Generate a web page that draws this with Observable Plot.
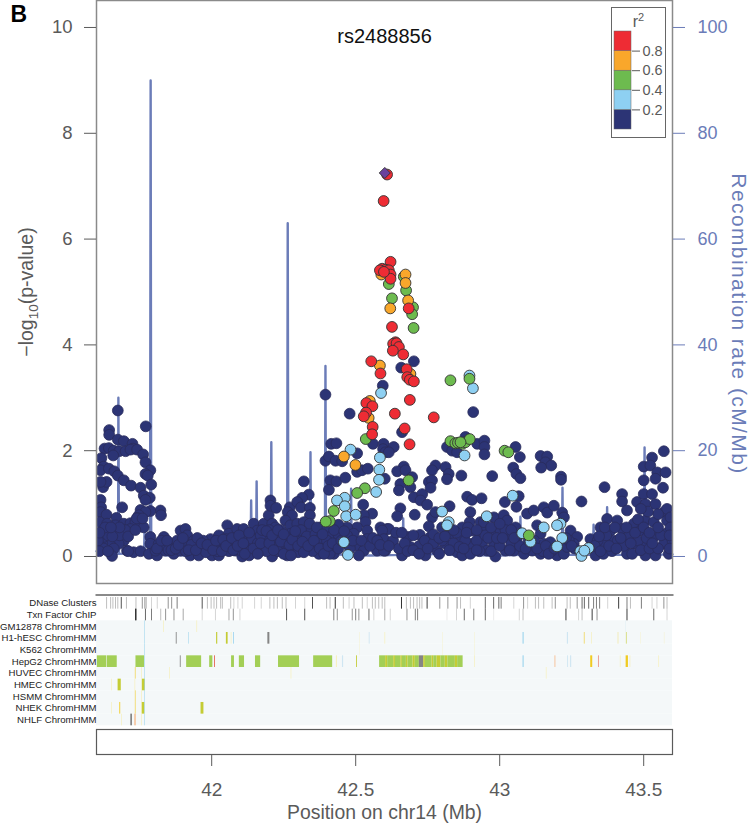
<!DOCTYPE html>
<html><head><meta charset="utf-8">
<style>html,body{margin:0;padding:0;background:#fff}#w{position:relative;width:750px;height:823px;overflow:hidden}svg{display:block}</style>
<script src="https://cdn.jsdelivr.net/npm/d3@7"></script>
<script src="https://cdn.jsdelivr.net/npm/@observablehq/plot@0.6"></script>
</head><body><div id="w"></div>
<script>
const FONT = '"Liberation Sans", Arial, sans-serif';
const NAVY="#2c3475", LBLUE="#8ed0f2", GREEN="#6dbb4f", ORANGE="#f9a72b", RED="#ee2c34", PURPLE="#6a429e";
const AXIS="#5a5a5a", RATE="#6b7cb8";
const rsid="rs2488856";
const yTicks=[0,2,4,6,8,10];
const xTicks=[42,42.5,43,43.5];
const legendBins=[[0,.2,NAVY],[.2,.4,LBLUE],[.4,.6,GREEN],[.6,.8,ORANGE],[.8,1,RED]];
const tracks=["DNase Clusters","Txn Factor ChIP","GM12878 ChromHMM","H1-hESC ChromHMM","K562 ChromHMM","HepG2 ChromHMM","HUVEC ChromHMM","HMEC ChromHMM","HSMM ChromHMM","NHEK ChromHMM","NHLF ChromHMM"];
const recRate=[[41.6,1],[41.62,.5],[41.64,1.5],[41.65,.6],[41.675,.5],[41.676,30],[41.678,.5],[41.72,.6],[41.765,.5],[41.767,5],[41.769,.5],[41.786,.5],[41.788,90],[41.79,.5],[41.85,.2],[42,.3],[42.135,.4],[42.137,10.6],[42.139,.4],[42.154,.4],[42.156,14.2],[42.158,.4],[42.205,.4],[42.207,21.6],[42.209,.4],[42.262,.4],[42.264,63],[42.266,.4],[42.341,.4],[42.343,19.7],[42.345,.4],[42.393,.4],[42.395,36],[42.397,.4],[42.482,.3],[42.484,12.8],[42.486,.3],[42.55,.2],[42.663,.3],[42.665,7.2],[42.667,.3],[42.8,.5],[42.81,1],[42.82,.3],[43,.2],[43.07,.3],[43.072,7.5],[43.074,.3],[43.216,.3],[43.218,13],[43.22,.3],[43.324,.3],[43.326,6],[43.328,.3],[43.371,.3],[43.373,9.3],[43.375,.3],[43.501,.3],[43.503,20.6],[43.505,.3],[43.6,.4]];
const r2Navy=[[41.674,2.76],[41.771,2.46],[41.644,2.39],[41.644,2.3],[41.674,2.21],[41.695,2.18],[41.725,2.13],[41.727,2.04],[41.628,2.04],[41.643,2.05],[41.66,2],[41.679,1.99],[41.701,1.99],[41.718,2.02],[41.741,2.02],[41.762,1.93],[41.658,1.91],[41.617,1.86],[41.77,1.78],[41.625,1.7],[41.614,1.63],[41.643,1.66],[41.662,1.61],[41.674,1.53],[41.695,1.44],[41.787,1.63],[41.77,1.56],[41.778,1.53],[41.79,1.36],[41.72,1.34],[41.753,1.3],[41.623,1.31],[41.635,1.41],[41.614,1.41],[41.764,1.15],[41.785,1.11],[41.77,1.07],[41.614,1.07],[41.689,.93],[41.616,.93],[41.822,.87],[41.824,.78],[41.787,.86],[41.753,.88],[41.77,.84],[41.747,.78],[41.741,.73],[41.614,.84],[41.635,.79],[41.669,.73],[41.611,.65],[41.637,.62],[41.666,.59],[41.695,.62],[41.718,.63],[41.735,.65],[41.764,.55],[41.718,.52],[41.672,.49],[41.625,.46],[41.695,.3],[41.677,.24],[41.648,.21],[41.62,.24],[41.625,.37],[41.625,.15],[41.66,.15],[41.706,.11],[41.729,.08],[41.753,.1],[41.654,.01],[41.787,.37],[41.787,.24],[41.782,.05],[41.81,.02],[41.834,.37],[41.816,.24],[41.805,.11],[41.839,.11],[41.863,.24],[41.868,.05],[41.892,.49],[41.909,.52],[41.915,.4],[41.903,.24],[41.892,.11],[41.926,.02],[41.938,.3],[41.955,.18],[41.955,.02],[41.978,.15],[41.996,.33],[41.996,.21],[42.001,.02],[42.025,.4],[42.03,.24],[42.025,.02],[42.054,.59],[42.059,.43],[42.042,.15],[42.065,.24],[42.088,.52],[42.1,.37],[42.082,.11],[42.106,0],[42.111,.52],[42.123,.24],[42.135,.11],[42.146,.62],[42.158,.49],[42.152,.33],[42.169,.11],[42.181,.62],[42.198,.78],[42.204,1.06],[42.204,.96],[42.224,.92],[42.21,.62],[42.192,.37],[42.21,0],[42.221,.55],[42.233,.37],[42.245,.18],[42.262,.02],[42.271,.93],[42.264,.84],[42.279,.78],[42.256,.68],[42.273,.59],[42.273,.43],[42.262,.24],[42.297,.62],[42.32,1.42],[42.337,1.17],[42.314,1.11],[42.297,1.03],[42.31,.93],[42.341,.92],[42.341,.78],[42.32,.65],[42.343,.49],[42.302,.33],[42.285,.18],[42.326,.18],[42.349,.3],[42.372,.05],[42.389,.18],[42.378,.55],[42.395,.49],[42.412,.37],[42.424,.05],[42.395,3.06],[42.395,1.81],[42.407,1.89],[42.415,2.13],[42.433,2.14],[42.43,1.81],[42.453,1.8],[42.412,1.44],[42.433,1.42],[42.464,1.49],[42.407,1.26],[42.505,1.6],[42.522,1.63],[42.542,1.66],[42.479,2.7],[42.56,2.13],[42.597,2.13],[42.595,2.03],[42.603,1.97],[42.505,1.95],[42.601,1.47],[42.526,.98],[42.557,.81],[42.528,.78],[42.534,.65],[42.505,.55],[42.47,.55],[42.493,.43],[42.54,.49],[42.586,.55],[42.609,.52],[42.592,.37],[42.54,.33],[42.505,.21],[42.528,.11],[42.574,.11],[42.603,.11],[42.511,.02],[42.47,.24],[42.441,.4],[42.594,3.23],[42.702,3.69],[42.658,3.57],
[42.908,2.73],[42.661,2.35],[42.632,2.07],[42.615,1.97],[42.817,2.07],[42.835,2],[42.852,1.97],[42.881,2.26],[42.922,2.13],[42.947,2.19],[42.947,2.07],[42.947,1.93],[43.055,2.07],[43.07,1.88],[43.142,1.9],[43.165,1.89],[43.159,1.78],[43.179,1.72],[43.144,1.68],[43.047,1.68],[43.058,1.56],[43.072,1.48],[43.213,1.51],[43.213,1.45],[43.57,1.99],[43.529,1.87],[43.5,1.7],[43.523,1.72],[43.547,1.59],[43.576,1.59],[43.5,1.44],[43.541,1.47],[43.567,1.3],[43.364,1.31],[42.667,1.7],[42.644,1.61],[42.673,1.63],[42.696,1.5],[42.655,1.37],[42.69,1.31],[42.65,1.25],[42.702,1.12],[42.731,1.18],[42.725,1.06],[42.748,.98],[42.777,1.72],[42.765,1.63],[42.812,1.69],[42.823,1.56],[42.817,1.46],[42.754,1.41],[42.765,1.44],[42.76,1.3],[42.867,1.53],[42.974,1.52],[42.887,1.13],[42.904,1.07],[42.937,1.1],[43.018,1.03],[43.066,1.14],[43.058,.94],[42.655,.91],[42.644,.76],[42.705,.79],[42.615,.52],[42.592,.49],[42.598,.33],[42.598,.11],[42.661,.02],[42.681,.37],[42.69,.18],[42.723,.41],[42.736,.27],[42.711,.11],[42.742,.02],[42.783,.11],[42.76,.37],[42.765,.74],[42.754,.57],[42.777,.84],[42.826,.95],[42.8,.55],[42.829,.43],[42.812,.24],[42.852,.08],[42.87,.02],[42.864,.37],[42.898,.84],[42.896,.65],[42.87,.55],[42.904,.49],[42.904,.24],[42.898,.05],[42.933,.65],[42.951,.55],[42.933,.4],[42.939,.24],[42.956,.11],[42.985,0],[42.98,.74],[42.985,.49],[42.98,.24],[43.014,.78],[43.026,.68],[43.003,.49],[43.026,.37],[43.02,.11],[43.049,.11],[43.061,.37],[43.055,.55],[43.095,.81],[43.118,.87],[43.153,.93],[43.165,.83],[43.188,.96],[43.13,.59],[43.142,.43],[43.153,.24],[43.084,.05],[43.113,.11],[43.176,.27],[43.142,.05],[43.217,.83],[43.223,.74],[43.199,.02],[43.246,.49],[43.269,.37],[43.257,.24],[43.223,.05],[43.284,1.04],[43.234,.18],[43.333,.02],[43.315,.33],[43.35,.55],[43.373,.71],[43.385,.49],[43.361,.24],[43.408,.68],[43.425,1.18],[43.425,1.04],[43.442,.87],[43.425,.52],[43.396,.3],[43.442,.24],[43.442,.05],[43.477,1.03],[43.5,1.18],[43.529,1.18],[43.506,.99],[43.541,.99],[43.466,.62],[43.506,.68],[43.535,.65],[43.489,.49],[43.466,.24],[43.5,.24],[43.535,.37],[43.506,.02],[43.541,.02],[43.57,.84],[43.581,.9],[43.581,.68],[43.576,.43],[43.593,.74],[43.593,.55],[43.587,.24],[43.587,.05],[43.57,.24],
[41.83,.22],[41.85,.12],[41.88,.3],[41.91,.1],[41.93,.22],[41.97,.3],[41.98,.08],[42.01,.2],[42.02,.1],[42.05,.33],[42.06,.1],[42.08,.27],[42.1,.12],[42.12,.36],[42.13,.02],[42.14,.33],[42.16,.25],[42.17,.4],[42.18,.2],[42.19,.1],[42.2,.5],[42.22,.22],[42.23,.1],[42.24,.5],[42.25,.05],[42.26,.36],[42.28,.1],[42.29,.3],[42.3,.08],[42.31,.5],[42.33,.38],[42.35,.1],[42.36,.42],[42.37,.25],[42.38,.35],[42.4,.3],[42.41,.05],[42.43,.2],[42.44,.6],[42.47,.4],[42.63,.3],[42.65,.15],[42.67,.25],[42.7,.4],[42.72,.2],[42.74,.3],[42.77,.25],[42.79,.05],[42.8,.3],[42.84,.25],[42.85,.45],[42.88,.3],[42.89,.55],[42.92,.3],[42.93,.1],[42.95,.4],[42.97,.1],[43,.2],[43.02,.5],[43.04,.25],[43.07,.2],[43.09,.15],[43.12,.3],[43.15,.1],[43.18,.1],[43.24,.3],[43.26,.15],[43.34,.3],[43.36,.05],[43.37,.4],[43.39,.1],[43.41,.3],[43.43,.2],[43.45,.4],[43.46,.05],[43.48,.3],[43.49,.12],[43.51,.35],[43.52,.15],[43.55,.15],[43.56,.4],[43.6,.3],[41.605,.3],[41.61,.1],[41.64,.4],[41.7,.5],[41.68,.4],
[41.81,.15],[41.825,.3],[41.845,.3],[41.86,.12],[41.875,.15],[41.885,.22],[41.9,.35],[41.92,.12],[41.945,.12],[41.95,.35],[41.965,.25],[41.985,.22],[42.005,.12],[42.015,.3],[42.035,.1],[42.04,.32],[42.05,.2],[42.07,.35],[42.075,.12],[42.09,.2],[42.095,.4],[42.11,.25],[42.115,.05],[42.13,.45],[42.145,.15],[42.16,.05],[42.17,.25],[42.175,.5],[42.19,.48],[42.2,.25],[42.21,.4],[42.215,.12],[42.23,.5],[42.24,.28],[42.25,.42],[42.27,.22],[42.275,.02],[42.28,.32],[42.29,.48],[42.3,.2],[42.315,.28],[42.32,.08],[42.335,.2],[42.34,.62],[42.355,.3],[42.365,.55],[42.375,.15],[42.385,.42],[42.39,.05],[42.405,.2],[42.42,.25],[42.425,.5],[42.44,.15],[42.45,.3],[42.46,.48],[42.48,.15],[42.49,.3],[42.52,.3],[42.55,.2],[42.56,.35],[42.575,.3],[42.585,.22],[42.615,.2],[41.63,.55],[41.655,.38],[41.68,.55],[41.71,.38],[41.735,.5],[41.65,.55],[41.61,.45],[41.74,.72],[41.76,.72],[41.71,.1],[41.64,.1],
[42.64,.45],[42.66,.45],[42.68,.1],[42.7,.12],[42.72,.05],[42.75,.15],[42.77,.42],[42.79,.35],[42.81,.38],[42.825,.12],[42.84,.5],[42.86,.18],[42.875,.15],[42.885,.45],[42.92,.5],[42.92,.12],[42.945,.65],[42.96,.35],[42.97,.55],[42.99,.35],[43,.62],[43.01,.35],[43.035,.12],[43.04,.5],[43.05,.35],[43.1,.3],[43.13,.15],[43.16,.2],[43.17,.05],[43.19,.15],[43.23,.35],[43.25,.2],[43.33,.2],[43.345,.38],[43.35,.1],[43.365,.55],[43.38,.2],[43.4,.55],[43.405,.15],[43.42,.35],[43.44,.55],[43.455,.25],[43.47,.45],[43.48,.7],[43.5,.55],[43.52,.45],[43.53,.25],[43.55,.55],[43.55,.8],[43.515,.85],[43.49,.9],[43.59,.4],[43.59,.15]];
const r2LightBlue=[[42.588,3.09],[42.482,2.02],[42.584,1.87],[42.582,1.64],[42.581,1.45],[42.571,1.22],[42.462,1.11],[42.435,1.06],[42.462,.95],[42.467,.76],[42.5,.79],[42.459,.27],[42.473,.03],[42.895,3.42],[42.907,3.18],[42.878,1.91],[42.8,.85],[42.823,.65],[42.817,.59],[42.955,.76],[43.045,1.15],[43.078,.44],[43.107,.28],[43.153,.55],[43.211,.62],[43.199,.59],[43.217,.35],[43.199,.19],[43.28,.1],[43.309,.16],[43.284,.01],[43.294,.11]];
const r2Green=[[42.535,2.22],[42.532,1.29],[42.505,1.2],[42.424,.86],[42.41,.67],[42.396,.66],[42.615,5.15],[42.667,5.29],[42.675,5.03],[42.626,4.88],[42.699,4.71],[42.696,4.58],[42.701,4.32],[42.829,3.33],[42.895,3.36],[42.829,2.18],[42.846,2.14],[42.855,2.15],[42.87,2.13],[42.881,2.16],[42.896,2.22],[42.864,2.16],[43.017,2],[43.03,1.97],[42.684,1.44],[43.101,.4]];
const r2Orange=[[42.459,1.89],[42.499,1.73],[42.549,2.94],[42.545,2.62],[42.589,5.33],[42.673,5.33],[42.673,5.17],[42.62,4.69],[42.682,4.84],[42.584,3.61],[42.69,3.45]];
const r2Red=[[42.537,2.9],[42.558,2.84],[42.536,2.72],[42.528,2.65],[42.559,2.45],[42.557,2.31],[42.609,7.22],[42.597,6.72],[42.621,5.57],[42.592,5.44],[42.604,5.42],[42.615,5.41],[42.621,5.33],[42.621,5.25],[42.584,5.41],[42.598,5.38],[42.684,4.69],[42.626,4.34],[42.638,4.05],[42.63,4.02],[42.642,4.03],[42.65,3.96],[42.629,3.89],[42.665,3.82],[42.554,3.69],[42.586,3.46],[42.677,3.54],[42.679,3.39],[42.688,3.34],[42.702,3.31],[42.688,2.96],[42.636,2.7],[42.771,2.63],[42.67,2.42],[42.687,2.12]];
const leadSnp=[[42.601,7.25]];
const dnase=[[41.635,.3],[41.649,.3],[41.657,.3],[41.666,.3],[41.674,.3],[41.686,.8],[41.704,.3],[41.737,.3],[41.759,.5],[41.768,.5],[41.773,.3],[41.791,.2],[41.811,.2],[41.849,.5],[41.861,.5],[41.88,.6],[41.967,.8],[41.985,.3],[41.998,.3],[42.008,.3],[42.017,.3],[42.031,.3],[42.037,.3],[42.066,.3],[42.077,.2],[42.091,.2],[42.106,.2],[42.149,.2],[42.172,.2],[42.202,.3],[42.216,.3],[42.228,.3],[42.245,.3],[42.258,.3],[42.291,.2],[42.323,.2],[42.35,.8],[42.399,.3],[42.411,.3],[42.429,.95],[42.457,.3],[42.477,.2],[42.494,.3],[42.523,.3],[42.54,.2],[42.558,.3],[42.568,.3],[42.58,.3],[42.592,.3],[42.601,.3],[42.659,.95],[42.676,.3],[42.69,.3],[42.701,.3],[42.713,.3],[42.722,.3],[42.73,.3],[42.748,.9],[42.792,.5],[42.82,.5],[42.852,.5],[42.864,.3],[42.898,.2],[42.95,.7],[42.979,.7],[42.997,.7],[43.005,.6],[43.049,.2],[43.083,.5],[43.097,.2],[43.124,.3],[43.135,.3],[43.153,.3],[43.182,.3],[43.193,.5],[43.234,.3],[43.245,.3],[43.269,.5],[43.286,.7],[43.294,.7],[43.309,.7],[43.326,.6],[43.336,.6],[43.347,.6],[43.375,.2],[43.413,.9],[43.442,.6],[43.454,.3],[43.492,.6],[43.529,.2],[43.546,.2],[43.57,.5],[43.581,.3]];
const txnChip=[[41.736,.9],[41.737,.9],[41.77,.7],[41.791,.6],[41.823,.3],[41.84,.5],[41.869,.5],[41.901,.4],[41.967,.2],[42.013,.2],[42.06,.4],[42.075,.5],[42.098,.2],[42.26,.8],[42.323,.8],[42.424,.6],[42.436,.5],[42.488,.5],[42.5,.6],[42.511,.5],[42.546,.7],[42.563,.2],[42.601,.4],[42.62,.2],[42.678,.5],[42.707,.6],[42.715,.6],[42.817,.1],[42.85,.2],[42.877,.7],[42.91,.6],[42.95,.7],[42.979,.1],[43.068,.2],[43.081,.3],[43.23,.9],[43.274,.2],[43.286,.3],[43.321,.9],[43.338,.5],[43.442,.9],[43.535,.7],[43.581,.2]];
const states=["Txn","WeakEnh","Pale","Yellow","Insulator","PaleIns","Repressed","Strong","Active"];
const stateColors=["#a3cf56","#c4cc34","#f7eeb0","#f0cb22","#9fd6ee","#cfe6f2","#858585","#f6bd90","#e4604e"];
const chrom=[
["GM12878 ChromHMM",41.834,41.836,"Pale"],["GM12878 ChromHMM",41.949,41.951,"Pale"],["GM12878 ChromHMM",43.438,43.439,"PaleIns"],
["H1-hESC ChromHMM",41.877,41.88,"Repressed"],["H1-hESC ChromHMM",41.92,41.922,"Insulator"],["H1-hESC ChromHMM",42.017,42.021,"WeakEnh"],["H1-hESC ChromHMM",42.051,42.057,"WeakEnh"],["H1-hESC ChromHMM",42.068,42.07,"Pale"],["H1-hESC ChromHMM",42.076,42.079,"Insulator"],["H1-hESC ChromHMM",42.195,42.202,"Repressed"],["H1-hESC ChromHMM",42.514,42.515,"Pale"],["H1-hESC ChromHMM",42.547,42.55,"PaleIns"],["H1-hESC ChromHMM",42.602,42.604,"Pale"],["H1-hESC ChromHMM",42.803,42.804,"Pale"],["H1-hESC ChromHMM",42.913,42.914,"Pale"],["H1-hESC ChromHMM",43.081,43.085,"Insulator"],["H1-hESC ChromHMM",43.235,43.239,"PaleIns"],["H1-hESC ChromHMM",43.294,43.296,"Yellow"],["H1-hESC ChromHMM",43.32,43.322,"Pale"],["H1-hESC ChromHMM",43.412,43.413,"Yellow"],["H1-hESC ChromHMM",43.44,43.442,"WeakEnh"],["H1-hESC ChromHMM",43.49,43.491,"Pale"],["H1-hESC ChromHMM",43.572,43.573,"Pale"],
["K562 ChromHMM",42.514,42.515,"Pale"],["K562 ChromHMM",42.803,42.804,"Pale"],["K562 ChromHMM",42.913,42.914,"Pale"],
["HepG2 ChromHMM",41.603,41.635,"Txn"],["HepG2 ChromHMM",41.637,41.672,"Txn"],["HepG2 ChromHMM",41.737,41.767,"Txn"],["HepG2 ChromHMM",41.891,41.894,"Repressed"],["HepG2 ChromHMM",41.913,41.965,"Txn"],["HepG2 ChromHMM",41.993,42.004,"Txn"],["HepG2 ChromHMM",42.01,42.013,"Active"],["HepG2 ChromHMM",42.069,42.079,"Txn"],["HepG2 ChromHMM",42.096,42.114,"Txn"],["HepG2 ChromHMM",42.152,42.17,"Txn"],["HepG2 ChromHMM",42.232,42.305,"Txn"],["HepG2 ChromHMM",42.354,42.42,"Txn"],["HepG2 ChromHMM",42.433,42.436,"Pale"],["HepG2 ChromHMM",42.454,42.458,"PaleIns"],["HepG2 ChromHMM",42.503,42.506,"WeakEnh"],["HepG2 ChromHMM",42.583,42.604,"Txn"],["HepG2 ChromHMM",42.604,42.611,"WeakEnh"],["HepG2 ChromHMM",42.611,42.632,"Txn"],["HepG2 ChromHMM",42.632,42.638,"WeakEnh"],["HepG2 ChromHMM",42.638,42.657,"Txn"],["HepG2 ChromHMM",42.657,42.662,"WeakEnh"],["HepG2 ChromHMM",42.662,42.676,"Txn"],["HepG2 ChromHMM",42.676,42.682,"WeakEnh"],["HepG2 ChromHMM",42.682,42.699,"Txn"],["HepG2 ChromHMM",42.699,42.707,"WeakEnh"],["HepG2 ChromHMM",42.707,42.721,"Txn"],["HepG2 ChromHMM",42.721,42.736,"Repressed"],["HepG2 ChromHMM",42.736,42.742,"WeakEnh"],["HepG2 ChromHMM",42.742,42.765,"Txn"],["HepG2 ChromHMM",42.765,42.771,"WeakEnh"],["HepG2 ChromHMM",42.771,42.782,"Txn"],["HepG2 ChromHMM",42.782,42.796,"WeakEnh"],["HepG2 ChromHMM",42.796,42.811,"Txn"],["HepG2 ChromHMM",42.811,42.82,"WeakEnh"],["HepG2 ChromHMM",42.82,42.846,"Txn"],["HepG2 ChromHMM",42.846,42.854,"WeakEnh"],["HepG2 ChromHMM",42.854,42.873,"Txn"],["HepG2 ChromHMM",42.913,42.915,"Pale"],["HepG2 ChromHMM",43.081,43.085,"Insulator"],["HepG2 ChromHMM",43.192,43.195,"Strong"],["HepG2 ChromHMM",43.236,43.239,"PaleIns"],["HepG2 ChromHMM",43.246,43.25,"PaleIns"],["HepG2 ChromHMM",43.316,43.323,"Yellow"],["HepG2 ChromHMM",43.343,43.345,"Active"],["HepG2 ChromHMM",43.419,43.421,"Pale"],["HepG2 ChromHMM",43.439,43.447,"Yellow"],["HepG2 ChromHMM",43.453,43.455,"Pale"],["HepG2 ChromHMM",43.553,43.555,"Pale"],
["HUVEC ChromHMM",41.735,41.737,"Yellow"],["HUVEC ChromHMM",41.757,41.759,"Pale"],["HUVEC ChromHMM",41.854,41.856,"Pale"],["HUVEC ChromHMM",42.276,42.278,"Pale"],["HUVEC ChromHMM",43.162,43.164,"Pale"],
["HMEC ChromHMM",41.653,41.655,"Pale"],["HMEC ChromHMM",41.675,41.686,"WeakEnh"],["HMEC ChromHMM",41.734,41.736,"Pale"],["HMEC ChromHMM",41.759,41.77,"WeakEnh"],
["HSMM ChromHMM",41.735,41.737,"Yellow"],["HSMM ChromHMM",41.757,41.759,"Pale"],
["NHEK ChromHMM",41.653,41.655,"Pale"],["NHEK ChromHMM",41.681,41.684,"Yellow"],["NHEK ChromHMM",41.735,41.737,"Yellow"],["NHEK ChromHMM",41.757,41.759,"Pale"],["NHEK ChromHMM",41.759,41.768,"WeakEnh"],["NHEK ChromHMM",41.963,41.973,"WeakEnh"],
["NHLF ChromHMM",41.687,41.689,"Pale"],["NHLF ChromHMM",41.719,41.725,"Repressed"],["NHLF ChromHMM",41.733,41.738,"Strong"],["NHLF ChromHMM",41.757,41.759,"Pale"],
...tracks.slice(2).map(t=>[t,41.767,41.769,"Insulator"])
];
const xDomain=[41.6,43.6];
const base={width:750,marginLeft:96,marginRight:78,style:{fontFamily:FONT,background:"transparent"}};
const dots=(d,fill)=>Plot.dot(d,{x:p=>p[0],y:p=>p[1],r:5.4,fill,stroke:"#333",strokeWidth:.9,clip:"frame"});

const main=Plot.plot({...base,height:590,marginTop:0,marginBottom:7,
  x:{domain:xDomain,axis:null},y:{domain:[-.5104,10.51],axis:null},
  marks:[
    Plot.line(recRate,{x:d=>d[0],y:d=>d[1]/10,stroke:RATE,strokeWidth:2.4}),
    Plot.dot(r2Navy,{x:p=>p[0],y:p=>p[1],r:5.4,fill:NAVY,stroke:"#2a2c5c",strokeWidth:.8,clip:"frame"}),
    dots(r2LightBlue,LBLUE),dots(r2Green,GREEN),dots(r2Orange,ORANGE),dots(r2Red,RED),
    Plot.dot(leadSnp,{x:p=>p[0],y:p=>p[1],r:5,symbol:"diamond2",fill:PURPLE,stroke:"#333",strokeWidth:.9}),
    Plot.frame({stroke:"#8a8a8a",strokeWidth:1.5}),
    Plot.axisY({ticks:yTicks,tickSize:12,tickPadding:12,fontSize:18.5,stroke:AXIS,fill:AXIS,color:AXIS,label:null}),
    Plot.axisY({anchor:"right",ticks:yTicks,tickFormat:d=>d*10,tickSize:12,tickPadding:13,fontSize:18,stroke:RATE,color:RATE,fill:RATE,label:null}),
    Plot.text([rsid],{x:()=>42.6,y:()=>9.83,fontSize:20,fill:"#111"}),
    Plot.text(["−log10(p-value)"],{frameAnchor:"left",textAnchor:"middle",dx:-70,dy:0,rotate:-90,fontSize:19.5,fill:AXIS}),
    Plot.text(["Recombination rate (cM/Mb)"],{frameAnchor:"right",textAnchor:"middle",dx:66,dy:32,rotate:90,fontSize:21,fill:RATE}),
    Plot.text(["B"],{frameAnchor:"top-left",dx:-86,dy:5,fontSize:23,fontWeight:"bold",fill:"#000",textAnchor:"start",lineAnchor:"top"}),
  ]});

const tracksPlot=Plot.plot({...base,height:138,marginTop:7,marginBottom:2.7,
  x:{domain:xDomain,axis:null},y:{domain:tracks,padding:0,round:false,axis:null},
  marks:[
    Plot.barX(tracks.slice(2),{y:d=>d,x1:()=>xDomain[0],x2:()=>xDomain[1],fill:"#f4f8f9"}),
    Plot.tickX(dnase,{x:d=>d[0],y:()=>tracks[0],stroke:"#000",strokeOpacity:d=>d[1]*.85,strokeWidth:1}),
    Plot.tickX(txnChip,{x:d=>d[0],y:()=>tracks[1],stroke:"#000",strokeOpacity:d=>d[1]*.85,strokeWidth:1}),
    Plot.barX(chrom,{y:d=>d[0],x1:d=>d[1],x2:d=>d[2],fill:d=>stateColors[states.indexOf(d[3])]}),
    Plot.axisY({tickSize:0,tickPadding:0,fontSize:9.6,fill:"#222",color:"#222",label:null}),
    Plot.frame({anchor:"top",dy:-2.5,stroke:"#8a8a8a",strokeWidth:2}),
  ]});

const axisPlot=Plot.plot({...base,height:95,marginTop:1,marginBottom:69,
  x:{domain:xDomain,axis:null},y:{domain:[0,1],axis:null},
  marks:[
    Plot.frame({stroke:AXIS,strokeWidth:1.2}),
    Plot.axisX({ticks:xTicks,tickFormat:d=>String(d),tickSize:12,tickPadding:16,fontSize:19,stroke:AXIS,color:AXIS,fill:AXIS,label:null}),
    Plot.text(["Position on chr14 (Mb)"],{frameAnchor:"bottom",dy:58,lineAnchor:"middle",fontSize:19.4,fill:AXIS}),
  ]});

const legend=Plot.plot({width:53,height:129,marginLeft:2,marginRight:34,marginTop:23,marginBottom:8,
  style:{fontFamily:FONT,background:"#fff",position:"absolute",left:"612px",top:"8px",outline:"1px solid #666"},
  x:{domain:[0,1],axis:null},y:{domain:[0,1],axis:null},
  marks:[
    Plot.rect(legendBins,{x1:()=>0,x2:()=>1,y1:d=>d[0],y2:d=>d[1],fill:d=>d[2],stroke:"#666",strokeWidth:.5}),
    Plot.axisY({anchor:"right",ticks:[.2,.4,.6,.8],tickSize:8,tickPadding:3,fontSize:14.5,tickFormat:d=>d.toFixed(1),stroke:AXIS,color:AXIS,fill:AXIS,label:null}),
    Plot.text(["r2"],{frameAnchor:"top",dx:15.5,dy:-10,lineAnchor:"middle",fontSize:16,fill:AXIS}),
  ]});

const w=document.getElementById("w");
[main,tracksPlot,axisPlot,legend].forEach(n=>w.appendChild(n));
w.querySelectorAll("text").forEach(t=>{
  if(t.textContent==="−log10(p-value)") t.innerHTML='−log<tspan dy="5" font-size="13.5">10</tspan><tspan dy="-5">(p-value)</tspan>';
  if(t.textContent==="r2") t.innerHTML='r<tspan dy="-6" font-size="11">2</tspan>';
  if(t.textContent.startsWith("Recombination")) t.setAttribute("letter-spacing","1.4");
});
</script></body></html>
